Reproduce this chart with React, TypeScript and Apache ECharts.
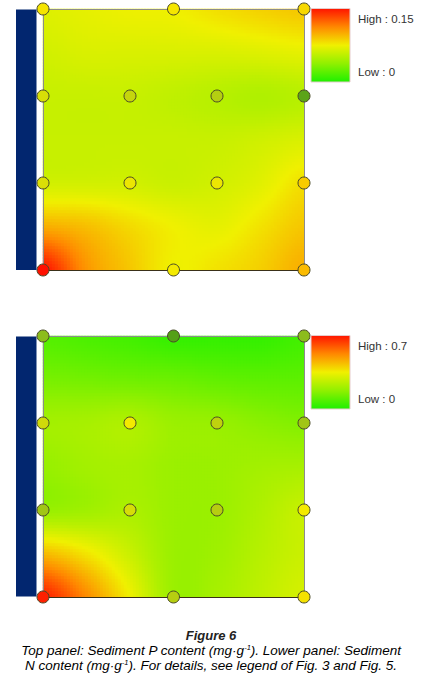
import React, { useEffect, useRef } from 'react';
import * as echarts from 'echarts';

// Sample-grid positions (same for x and y), in station units
const GRID_POS = [0, 0.5, 1, 1.5, 2, 2.5, 3];

// Interpolated surface, rows from top (y = 3) to bottom (y = 0)
const surfaceP = [
  [0.068, 0.071, 0.074, 0.075, 0.081, 0.086, 0.090],
  [0.063, 0.066, 0.066, 0.066, 0.066, 0.068, 0.071],
  [0.059, 0.059, 0.059, 0.056, 0.053, 0.050, 0.053],
  [0.059, 0.059, 0.059, 0.059, 0.059, 0.062, 0.066],
  [0.063, 0.063, 0.063, 0.060, 0.063, 0.069, 0.081],
  [0.099, 0.093, 0.083, 0.075, 0.071, 0.080, 0.090],
  [0.150, 0.108, 0.090, 0.075, 0.080, 0.087, 0.099],
];
const surfaceN = [
  [0.084, 0.070, 0.056, 0.035, 0.035, 0.035, 0.056],
  [0.140, 0.133, 0.126, 0.119, 0.105, 0.098, 0.098],
  [0.210, 0.217, 0.231, 0.196, 0.189, 0.168, 0.154],
  [0.189, 0.210, 0.217, 0.196, 0.196, 0.210, 0.217],
  [0.190, 0.205, 0.225, 0.196, 0.196, 0.231, 0.273],
  [0.440, 0.370, 0.280, 0.196, 0.203, 0.245, 0.280],
  [0.680, 0.520, 0.350, 0.196, 0.217, 0.259, 0.301],
];

// Sampling stations
const stationX = [0, 1.5, 3, 0, 1, 2, 3, 0, 1, 2, 3, 0, 1.5, 3];
const stationY = [3, 3, 3, 2, 2, 2, 2, 1, 1, 1, 1, 0, 0, 0];
const valuesP = [0.078, 0.077, 0.084, 0.065, 0.058, 0.052, 0.018, 0.066, 0.072, 0.072, 0.09, 0.15, 0.075, 0.099];
const valuesN = [0.175, 0.07, 0.175, 0.29, 0.35, 0.26, 0.21, 0.21, 0.3, 0.245, 0.35, 0.68, 0.245, 0.37];

const MAX_P = 0.15;
const MAX_N = 0.7;
const legendHighP = 'High : 0.15';
const legendHighN = 'High : 0.7';
const legendLow = 'Low : 0';

const surfaceColors = ['#1ef000', '#90f000', '#f0f000', '#ff8800', '#ff1400'];
const pointColors = ['#2e8e14', '#8cbc1c', '#f4ea00', '#ffa000', '#ff1000'];

const N = 87;
const cats = Array.from({ length: N }, (_, i) => String(i));

function cr(p0: number, p1: number, p2: number, p3: number, t: number) {
  return 0.5 * (2 * p1 + (-p0 + p2) * t + (2 * p0 - 5 * p1 + 4 * p2 - p3) * t * t + (-p0 + 3 * p1 - 3 * p2 + p3) * t * t * t);
}

function sample(grid: number[][], u: number, v: number) {
  const last = GRID_POS.length - 1;
  const g = (ix: number, iy: number) => {
    const cx = Math.max(0, Math.min(last, ix));
    const cy = Math.max(0, Math.min(last, iy));
    return grid[last - cy][cx];
  };
  const i = Math.min(Math.floor(u), last - 1);
  const j = Math.min(Math.floor(v), last - 1);
  const tx = u - i;
  const ty = v - j;
  const rows: number[] = [];
  for (let m = -1; m <= 2; m++) {
    rows.push(cr(g(i - 1, j + m), g(i, j + m), g(i + 1, j + m), g(i + 2, j + m), tx));
  }
  return cr(rows[0], rows[1], rows[2], rows[3], ty);
}

function buildHeat(grid: number[][], max: number) {
  const span = GRID_POS[GRID_POS.length - 1];
  const step = GRID_POS[1] - GRID_POS[0];
  const out: number[][] = [];
  for (let i = 0; i < N; i++) {
    for (let j = 0; j < N; j++) {
      const x = ((i + 0.5) / N) * span;
      const y = ((j + 0.5) / N) * span;
      const v = sample(grid, x / step, y / step);
      out.push([i, j, Math.max(0, Math.min(max, v))]);
    }
  }
  return out;
}

function buildPoints(vals: number[]) {
  return vals.map((v, k) => [stationX[k], stationY[k], v]);
}

const FONT = '"Liberation Sans", Arial, sans-serif';

export default function App() {
  const ref = useRef<HTMLDivElement>(null);

  useEffect(() => {
    if (!ref.current) return;
    const chart = echarts.init(ref.current, undefined, { renderer: 'svg' });

    const left = 43;
    const size = 261;
    const tops = [9, 336];

    const hiddenAxisBits = {
      axisTick: { show: false },
      axisLabel: { show: false },
      splitLine: { show: false },
    };
    const grayLine = { show: true, onZero: false, lineStyle: { color: '#8c8c8c', width: 1 } };
    const darkLine = { show: true, onZero: false, lineStyle: { color: '#3a3018', width: 1 } };

    const gradient = () =>
      new echarts.graphic.LinearGradient(
        0, 0, 0, 1,
        surfaceColors.slice().reverse().map((c, k, a) => ({ offset: k / (a.length - 1), color: c }))
      );

    const legend = (top: number, high: string) => [
      {
        type: 'rect',
        shape: { x: 311, y: top - 0.5, width: 39, height: 73.5 },
        style: { fill: gradient(), stroke: '#e6cccc', lineWidth: 1 },
        z: 20,
      },
      {
        type: 'text',
        style: { x: 358, y: top + 10, text: high, font: `11.5px ${FONT}`, fill: '#333', textVerticalAlign: 'middle' },
        z: 20,
      },
      {
        type: 'text',
        style: { x: 358, y: top + 63, text: legendLow, font: `11.5px ${FONT}`, fill: '#333', textVerticalAlign: 'middle' },
        z: 20,
      },
    ];

    const rich = {
      t: { fontSize: 13.5, fontStyle: 'italic', fontFamily: FONT, color: '#222', lineHeight: 15 },
      s: { fontSize: 7.5, fontStyle: 'italic', fontFamily: FONT, color: '#222', padding: [0, 0, 6, 0] },
    };

    const option: any = {
      animation: false,
      backgroundColor: '#ffffff',
      grid: [
        { left, top: tops[0], width: size, height: size },
        { left, top: tops[1], width: size, height: size },
        { left, top: tops[0], width: size, height: size },
        { left, top: tops[1], width: size, height: size },
      ],
      xAxis: [
        { gridIndex: 0, type: 'category', data: cats, position: 'top', axisLine: grayLine, z: 5, ...hiddenAxisBits },
        { gridIndex: 1, type: 'category', data: cats, position: 'top', axisLine: grayLine, z: 5, ...hiddenAxisBits },
        { gridIndex: 2, type: 'value', min: 0, max: 3, position: 'bottom', axisLine: darkLine, z: 5, ...hiddenAxisBits },
        { gridIndex: 3, type: 'value', min: 0, max: 3, position: 'bottom', axisLine: darkLine, z: 5, ...hiddenAxisBits },
      ],
      yAxis: [
        { gridIndex: 0, type: 'category', data: cats, position: 'right', axisLine: grayLine, z: 5, ...hiddenAxisBits },
        { gridIndex: 1, type: 'category', data: cats, position: 'right', axisLine: grayLine, z: 5, ...hiddenAxisBits },
        { gridIndex: 2, type: 'value', min: 0, max: 3, position: 'left', axisLine: grayLine, z: 5, ...hiddenAxisBits },
        { gridIndex: 3, type: 'value', min: 0, max: 3, position: 'left', axisLine: grayLine, z: 5, ...hiddenAxisBits },
      ],
      visualMap: [
        { type: 'continuous', show: false, seriesIndex: 0, dimension: 2, min: 0, max: MAX_P, inRange: { color: surfaceColors } },
        { type: 'continuous', show: false, seriesIndex: 1, dimension: 2, min: 0, max: MAX_N, inRange: { color: surfaceColors } },
        { type: 'continuous', show: false, seriesIndex: 2, dimension: 2, min: 0, max: MAX_P, inRange: { color: pointColors } },
        { type: 'continuous', show: false, seriesIndex: 3, dimension: 2, min: 0, max: MAX_N, inRange: { color: pointColors } },
      ],
      series: [
        { type: 'heatmap', xAxisIndex: 0, yAxisIndex: 0, data: buildHeat(surfaceP, MAX_P), progressive: 0, itemStyle: { borderWidth: 0 }, emphasis: { disabled: true } },
        { type: 'heatmap', xAxisIndex: 1, yAxisIndex: 1, data: buildHeat(surfaceN, MAX_N), progressive: 0, itemStyle: { borderWidth: 0 }, emphasis: { disabled: true } },
        { type: 'scatter', xAxisIndex: 2, yAxisIndex: 2, data: buildPoints(valuesP), symbolSize: 12, clip: false, z: 10, itemStyle: { borderColor: '#4a4a28', borderWidth: 1, opacity: 1 } },
        { type: 'scatter', xAxisIndex: 3, yAxisIndex: 3, data: buildPoints(valuesN), symbolSize: 12, clip: false, z: 10, itemStyle: { borderColor: '#4a4a28', borderWidth: 1, opacity: 1 } },
      ],
      graphic: [
        { type: 'rect', shape: { x: 16, y: 9.5, width: 20.5, height: 260.5 }, style: { fill: '#02266f' }, z: 20 },
        { type: 'rect', shape: { x: 16, y: 336.5, width: 20.5, height: 260 }, style: { fill: '#02266f' }, z: 20 },
        ...legend(tops[0], legendHighP),
        ...legend(tops[1], legendHighN),
        {
          type: 'text',
          style: { x: 211, y: 635, text: 'Figure 6', font: `italic bold 13px ${FONT}`, fill: '#222', textAlign: 'center', textVerticalAlign: 'middle' },
          z: 20,
        },
        {
          type: 'text',
          style: {
            x: 211, y: 650.5, textAlign: 'center', textVerticalAlign: 'middle',
            text: '{t|Top panel: Sediment P content (mg·g}{s|-1}{t|). Lower panel: Sediment}',
            rich,
          },
          z: 20,
        },
        {
          type: 'text',
          style: {
            x: 211, y: 665, textAlign: 'center', textVerticalAlign: 'middle',
            text: '{t|N content (mg·g}{s|-1}{t|). For details, see legend of Fig. 3 and Fig. 5.}',
            rich,
          },
          z: 20,
        },
      ],
    };

    chart.setOption(option);
    return () => chart.dispose();
  }, []);

  return (
    <div
      ref={ref}
      style={{ position: 'fixed', left: 0, top: 0, width: 422, height: 675, background: '#fff' }}
    />
  );
}
